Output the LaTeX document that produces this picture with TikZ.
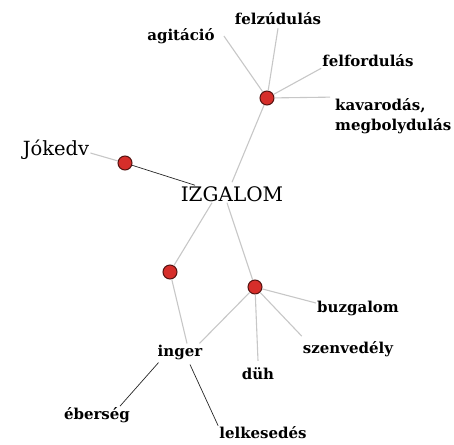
\documentclass[tikz,border=0pt]{standalone}
\usepackage{fontspec}
\setmainfont{DejaVu Serif}
\usetikzlibrary{positioning}
\definecolor{dotred}{RGB}{214,46,42}
\definecolor{dotrim}{RGB}{85,20,18}
\tikzset{
x=1pt, y=-1pt, % one unit is one pixel of the sketch, y grows downwards
hub/.style={circle, draw=dotrim, fill=dotred, line width=1pt, minimum size=14pt, inner sep=0pt}, % the red junction dots
word/.style={font=\bfseries\fontsize{15}{20}\selectfont, inner sep=1pt}, % bold leaf words
faint/.style={draw=black!22, line width=1.1pt}, % light grey links
dark/.style={draw=black!85, line width=0.7pt}, % dark links
}

\begin{document}
\begin{tikzpicture}
      \useasboundingbox (0,0) rectangle (454,444);

      \node[font=\fontsize{20}{24}\selectfont, inner sep=1pt] (izgalom) at (232,194) {IZGALOM};
      \node[font=\fontsize{19.5}{24}\selectfont, inner sep=1pt] (jokedv) at (56,150) {Jókedv};

      \node[hub] (top) at (267,98) {};
      \node[hub] (left) at (125,163) {};
      \node[hub] (low) at (170,272) {};
      \node[hub] (right) at (255,287) {};

      \node[word] (agitacio) at (181,36) {agitáció};
      \node[word] (felzudulas) at (278,19) {felzúdulás};
      \node[word] (felfordulas) at (368,61) {felfordulás};
      \node[word, align=left, anchor=west] (kavarodas) at (334,116) {kavarodás,\\megbolydulás};
      \node[word] (buzgalom) at (358,308) {buzgalom};
      \node[word] (szenvedely) at (348,349) {szenvedély};
      \node[word] (duh) at (258,374) {düh};
      \node[word] (inger) at (180,352) {inger};
      \node[word] (eberseg) at (97,415) {éberség};
      \node[word] (lelkesedes) at (263,433) {lelkesedés};

      \path[faint] (top) edge ([xshift=8pt]agitacio.east)
      (top) edge ([yshift=-2pt]felzudulas.south)
      (top) edge (felfordulas.south west)
      (top) edge ([xshift=-4pt]kavarodas.north west)
      (top) edge ([yshift=3pt]izgalom.north)
      ([yshift=-3pt]jokedv.east) edge (left)
      ([xshift=-20pt]izgalom.south) edge (low)
      ([xshift=-5pt]izgalom.south) edge (right)
      (low) edge ([xshift=7pt]inger.north)
      (right) edge ([xshift=-4pt]inger.north east)
      (right) edge ([yshift=5pt]buzgalom.west)
      (right) edge ([yshift=4pt]szenvedely.north west)
      (right) edge ([yshift=6pt]duh.north);

      \path[dark] (left) edge ([xshift=-37pt]izgalom.north)
      ([xshift=2pt,yshift=-2pt]inger.south west) edge ([xshift=23pt]eberseg.north)
      ([xshift=10pt,yshift=-4pt]inger.south) edge (lelkesedes.north west);
\end{tikzpicture}
\end{document}
